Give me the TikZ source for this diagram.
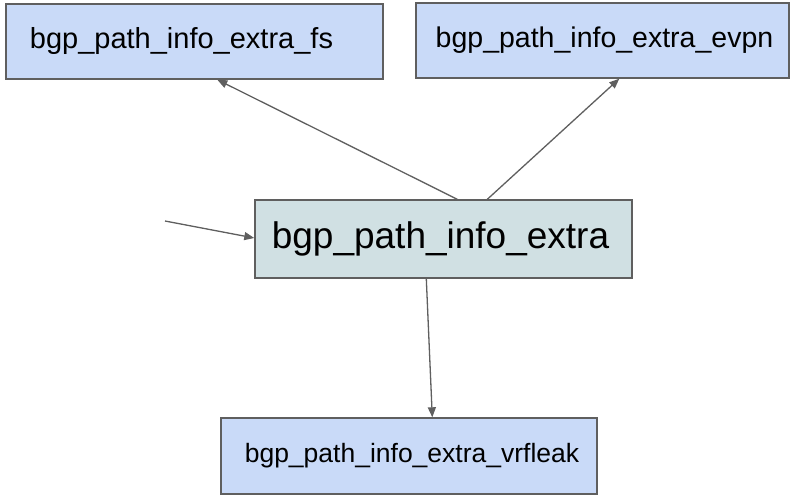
\documentclass[tikz,border=0pt]{standalone}
\usepackage{fontspec}
\setmainfont{Liberation Sans}
\usetikzlibrary{arrows.meta,calc}
\definecolor{boxblue}{HTML}{C9DAF8}
\definecolor{boxcyan}{HTML}{D0E0E3}
\definecolor{edgegray}{HTML}{5F5F5F}
\tikzset{
  structbox/.style={draw=edgegray, line width=1.4pt, rectangle, inner sep=0pt},
  subbox/.style={structbox, fill=boxblue},
  mainbox/.style={structbox, fill=boxcyan},
  link/.style={draw=edgegray, line width=1.3pt, -{Triangle[length=10pt,width=8pt]}},
}
\begin{document}
\begin{tikzpicture}[x=1pt,y=-1pt]
  \useasboundingbox (0,0) rectangle (790,495);
  % struct boxes
  \node[subbox, minimum width=377pt, minimum height=75pt,
        label={[xshift=-13pt,font=\fontsize{29}{34}\selectfont]center:bgp\_path\_info\_extra\_fs}]
        (fs) at (194.5,41.5) {};
  \node[subbox, minimum width=373pt, minimum height=75pt,
        label={[xshift=2pt,font=\fontsize{28.5}{34}\selectfont]center:bgp\_path\_info\_extra\_evpn}]
        (evpn) at (602.5,40.5) {};
  \node[mainbox, minimum width=377pt, minimum height=78pt,
        label={[xshift=-3pt,font=\fontsize{37}{44}\selectfont]center:bgp\_path\_info\_extra}]
        (main) at (443.5,239) {};
  \node[subbox, minimum width=376pt, minimum height=76pt,
        label={[xshift=3pt,font=\fontsize{26.5}{32}\selectfont]center:bgp\_path\_info\_extra\_vrfleak}]
        (vrf) at (409,456) {};
  % incoming reference from outside
  \coordinate (ext) at (165,221);
  % connectors
  \draw[link] ($(main.north west)+(203,0)$) -- ($(fs.south west)+(212,0)$);
  \draw[link] ($(main.north west)+(233,0)$) -- ($(evpn.south west)+(204,0)$);
  \draw[link] (ext) -- ($(main.west)+(0,-1)$);
  \draw[link] ($(main.south west)+(172,0)$) -- ($(vrf.north west)+(212,0)$);
\end{tikzpicture}
\end{document}
